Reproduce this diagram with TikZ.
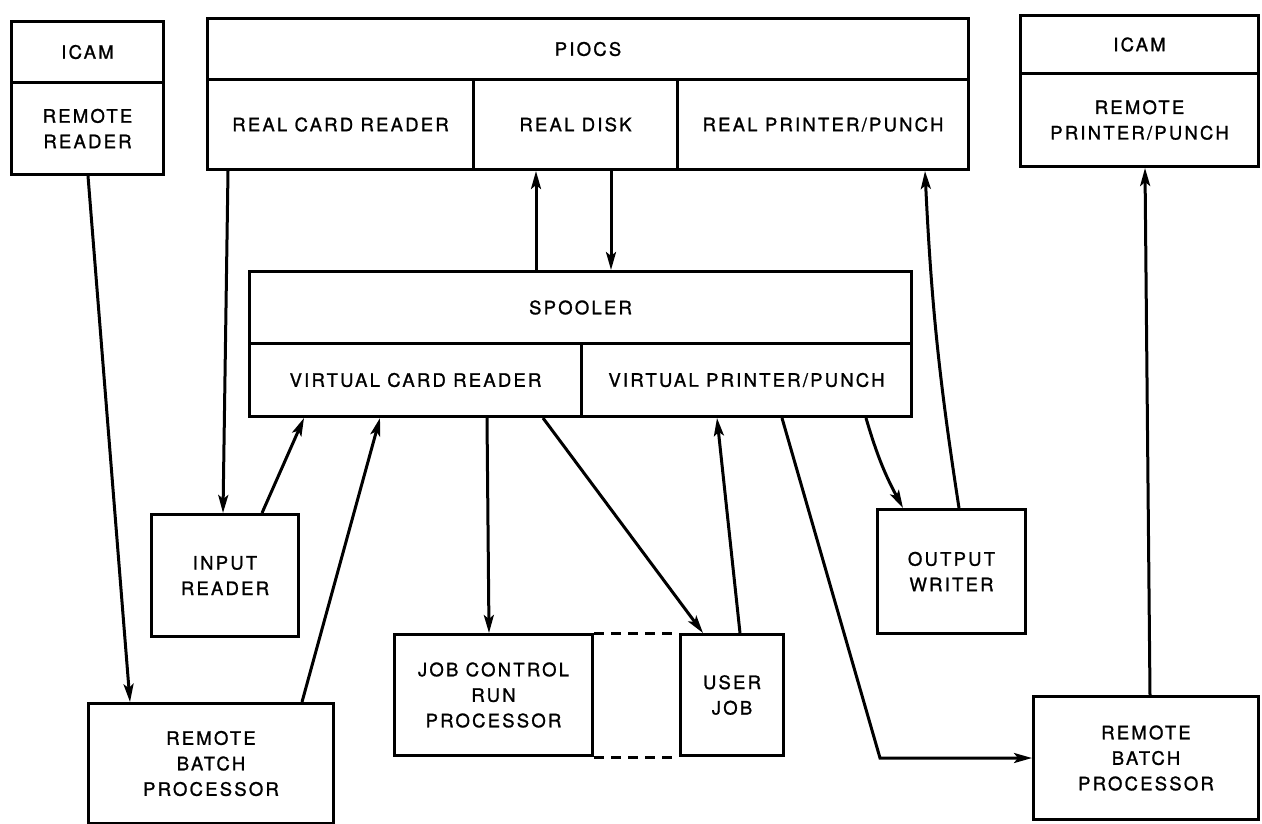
\documentclass[tikz,border=0pt]{standalone}
\usepackage{fontspec}
\setmainfont{TeX Gyre Heros}[LetterSpace=12, FakeBold=1.2]
\usetikzlibrary{arrows.meta,calc}
\tikzset{
  box/.style={draw, line width=3pt, anchor=north west, inner sep=0pt, align=center,
    font=\fontsize{18.5}{25.5}\selectfont},
  conn/.style={line width=3pt, -{Stealth[length=18pt,width=10pt,inset=4pt]}},
  dashconn/.style={line width=3pt, dash pattern=on 10pt off 7pt}
}
\begin{document}
\begin{tikzpicture}[x=1pt,y=-1pt]
\useasboundingbox (0,0) rectangle (1262,823);
% left ICAM
\node[box, minimum width=152pt, minimum height=61pt] (icamL) at (10,20) {ICAM};
\node[box, minimum width=152pt, minimum height=92pt] (rreader) at (10,81) {REMOTE\\READER};
% PIOCS
\node[box, minimum width=761pt, minimum height=61pt] (piocs) at (206,17) {PIOCS};
\node[box, minimum width=266pt, minimum height=90pt] (rcr) at (206,78) {REAL CARD READER};
\node[box, minimum width=204pt, minimum height=90pt] (rdisk) at (472,78) {REAL DISK};
\node[box, minimum width=291pt, minimum height=90pt] (rpp) at (676,78) {REAL PRINTER/PUNCH};
% right ICAM
\node[box, minimum width=238pt, minimum height=58pt] (icamR) at (1019,14) {ICAM};
\node[box, minimum width=238pt, minimum height=93pt] (rpr) at (1019,72) {REMOTE\\PRINTER/PUNCH};
% SPOOLER
\node[box, minimum width=662pt, minimum height=72pt] (spooler) at (248,270) {SPOOLER};
\node[box, minimum width=332pt, minimum height=73pt] (vcr) at (248,342) {VIRTUAL CARD READER};
\node[box, minimum width=330pt, minimum height=73pt] (vpp) at (580,342) {VIRTUAL PRINTER/PUNCH};
% lower boxes
\node[box, minimum width=147pt, minimum height=122pt] (inreader) at (150,513) {INPUT\\READER};
\node[box, minimum width=245pt, minimum height=120pt] (rbpL) at (87,702) {REMOTE\\BATCH\\PROCESSOR};
\node[box, minimum width=198pt, minimum height=121pt] (jcrp) at (393,633) {JOB CONTROL\\RUN\\PROCESSOR};
\node[box, minimum width=103pt, minimum height=121pt] (ujob) at (679,633) {USER\\JOB};
\node[box, minimum width=148pt, minimum height=124pt] (owriter) at (876,508) {OUTPUT\\WRITER};
\node[box, minimum width=225pt, minimum height=123pt] (rbpR) at (1032,695) {REMOTE\\BATCH\\PROCESSOR};
\coordinate (corner) at (880,758);
% connectors
\draw[conn] ([xshift=78pt]rreader.south west) -- ([xshift=43pt]rbpL.north west);
\draw[conn] ([xshift=22pt]rcr.south west) -- ([xshift=73pt]inreader.north west);
\draw[conn] ([xshift=112pt]inreader.north west) -- ([xshift=56pt]vcr.south west);
\draw[conn] ([xshift=215pt]rbpL.north west) -- ([xshift=132pt]vcr.south west);
\draw[conn] ([xshift=288pt]spooler.north west) -- ([xshift=64pt]rdisk.south west);
\draw[conn] ([xshift=139pt]rdisk.south west) -- ([xshift=363pt]spooler.north west);
\draw[conn] ([xshift=239pt]vcr.south west) -- ([xshift=96pt]jcrp.north west);
\draw[conn] ([xshift=295pt]vcr.south west) -- ([xshift=24pt]ujob.north west);
\draw[conn] ([xshift=61pt]ujob.north west) -- ([xshift=137pt]vpp.south west);
\draw[conn] ([xshift=202pt]vpp.south west) -- (corner) -- (corner -| rbpR.west);
\draw[conn] ([xshift=286pt]vpp.south west) to[bend right=6] ([xshift=27pt]owriter.north west);
\draw[conn] ([xshift=83pt]owriter.north west) to[bend left=3] ([xshift=249pt]rpp.south west);
\draw[conn] ([xshift=118pt]rbpR.north west) -- ([xshift=126pt]rpr.south west);
\draw[dashconn] (jcrp.north east) -- (ujob.north west);
\draw[dashconn] (jcrp.south east) -- (ujob.south west);
\end{tikzpicture}
\end{document}
